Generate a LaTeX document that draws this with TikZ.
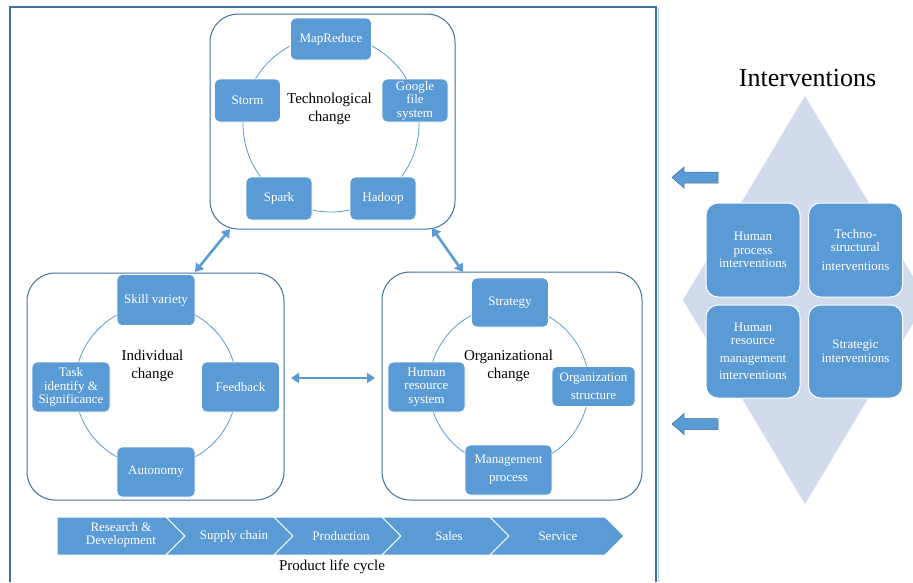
\documentclass[tikz,border=0pt]{standalone}
\usepackage{fontspec}
\setmainfont{Liberation Serif}
\usetikzlibrary{arrows.meta}
\definecolor{nodeblue}{RGB}{91,155,213}
\definecolor{darkblue}{RGB}{65,113,156}
\definecolor{diam}{RGB}{209,219,236}
\begin{document}
\begin{tikzpicture}[x=1pt,y=-1pt,
 cbox/.style={draw=white,line width=0.8pt,fill=nodeblue,rounded corners=5pt,text=white,font=\fontsize{13}{13.5}\selectfont,align=center,inner sep=0pt},
 ibox/.style={draw=white,line width=1pt,fill=nodeblue,rounded corners=12pt,text=white,font=\fontsize{13}{13.5}\selectfont,align=center,inner sep=0pt,minimum width=94pt,minimum height=94pt},
 container/.style={draw=darkblue,line width=1pt,rounded corners=28pt,inner sep=0pt},
 ring/.style={draw=nodeblue,line width=0.8pt},
 darrow/.style={draw=nodeblue,line width=2.6pt,{Triangle[width=10pt,length=8pt]}-{Triangle[width=10pt,length=8pt]}},
 chev/.style={fill=nodeblue,draw=white,line width=1pt},
 chevtext/.style={text=white,font=\fontsize{13}{13.5}\selectfont,align=center,inner sep=0pt},
 lbl/.style={font=\fontsize{15}{18}\selectfont,align=center,inner sep=0pt},
 blockarrow/.style={fill=nodeblue,draw=darkblue,line width=0.5pt}
]
\useasboundingbox (0,0) rectangle (913,582);
\fill[white] (0,0) rectangle (913,582);

% diamond background
\begin{scope}
\clip (0,0) rectangle (913,582);
\fill[diam] (805,96) -- (927,300) -- (805,504) -- (683,300) -- cycle;
\end{scope}

% frame
\draw[nodeblue!50,line width=1pt] (658,8) -- (658,582);
\draw[darkblue,line width=2.6pt] (10,582) -- (10,7) -- (656,7) -- (656,582);

% containers
\node[container,minimum width=245pt,minimum height=215pt] (tc) at (332.5,121.5) {};
\node[container,minimum width=257pt,minimum height=227pt] (lc) at (155.5,386.5) {};
\node[container,minimum width=260pt,minimum height=228pt] (rc) at (512,386) {};

% rings
\draw[ring] (331,124) circle (88);
\draw[ring] (156,386) circle (81);
\draw[ring] (509,386) circle (80);

% technological change
\node[cbox,minimum width=81pt,minimum height=42pt] (mapreduce) at (331,39) {MapReduce};
\node[cbox,minimum width=66pt,minimum height=43pt] (storm) at (247.5,100.5) {Storm};
\node[cbox,minimum width=66pt,minimum height=43pt] (gfs) at (415,100.5) {Google\\file\\system};
\node[cbox,minimum width=66pt,minimum height=43pt] (spark) at (279,198.5) {Spark};
\node[cbox,minimum width=66pt,minimum height=43pt] (hadoop) at (383,198.5) {Hadoop};
\node[lbl] (techlbl) at (329.5,109) {Technological\\change};

% individual change
\node[cbox,minimum width=78pt,minimum height=51pt] (skill) at (156,300) {Skill variety};
\node[cbox,minimum width=78pt,minimum height=50pt] (task) at (71,387) {Task\\identify \&\\Significance};
\node[cbox,minimum width=78pt,minimum height=50pt] (feedback) at (240.5,387) {Feedback};
\node[cbox,minimum width=78pt,minimum height=50pt] (autonomy) at (156,472) {Autonomy};
\node[lbl] (indlbl) at (152.5,366) {Individual\\change};

% organizational change
\node[cbox,minimum width=77pt,minimum height=49pt] (strategy) at (510,302.5) {Strategy};
\node[cbox,minimum width=77pt,minimum height=50pt] (hrs) at (426.5,387) {Human\\resource\\system};
\node[cbox,minimum width=83pt,minimum height=40pt] (orgstruct) at (593.5,386.5) {Organization\\[4.5pt]structure};
\node[cbox,minimum width=87pt,minimum height=50pt] (mgmt) at (508.5,470) {Management\\[4.5pt]process};
\node[lbl] (orglbl) at (508.5,366) {Organizational\\change};

% double arrows
\coordinate (a1s) at (230,229);
\coordinate (a1e) at (195,272);
\coordinate (a2s) at (432,228);
\coordinate (a2e) at (463,272);
\coordinate (a3s) at (291,378);
\coordinate (a3e) at (375,378);
\draw[darrow] (a1s) -- (a1e);
\draw[darrow] (a2s) -- (a2e);
\draw[darrow] (a3s) -- (a3e);

% product life cycle chevrons
\draw[chev] (57,517) -- (166,517) -- (185,536) -- (166,555) -- (57,555) -- cycle;
\draw[chev] (166,517) -- (274,517) -- (293,536) -- (274,555) -- (166,555) -- (185,536) -- cycle;
\draw[chev] (274,517) -- (382,517) -- (401,536) -- (382,555) -- (274,555) -- (293,536) -- cycle;
\draw[chev] (382,517) -- (490,517) -- (509,536) -- (490,555) -- (382,555) -- (401,536) -- cycle;
\draw[chev] (490,517) -- (605,517) -- (624,536) -- (605,555) -- (490,555) -- (509,536) -- cycle;
\node[chevtext] (rd) at (121,535) {Research \&\\Development};
\node[chevtext] (supply) at (234,536) {Supply chain};
\node[chevtext] (prod) at (341,536) {Production};
\node[chevtext] (sales) at (449,536) {Sales};
\node[chevtext] (service) at (558,536) {Service};
\node[lbl] (plc) at (332,567) {Product life cycle};

% interventions
\node[font=\fontsize{26}{30}\selectfont,inner sep=0pt] (intlbl) at (807.5,78) {Interventions};
\node[ibox] (hpi) at (753,250) {Human\\process\\interventions};
\node[ibox] (tsi) at (855.5,250) {Techno-\\structural\\[5pt]interventions};
\node[ibox,minimum height=93pt] (hrmi) at (753,351.5) {Human\\resource\\[4pt]management\\[4pt]interventions};
\node[ibox,minimum height=93pt] (si) at (855.5,351.5) {Strategic\\interventions};

% block arrows
\filldraw[blockarrow] (672,177.5) -- (684,167) -- (684,172) -- (718,172) -- (718,183) -- (684,183) -- (684,188) -- cycle;
\filldraw[blockarrow] (672,424) -- (684,413.5) -- (684,418.5) -- (718,418.5) -- (718,429.5) -- (684,429.5) -- (684,434.5) -- cycle;
\end{tikzpicture}
\end{document}
